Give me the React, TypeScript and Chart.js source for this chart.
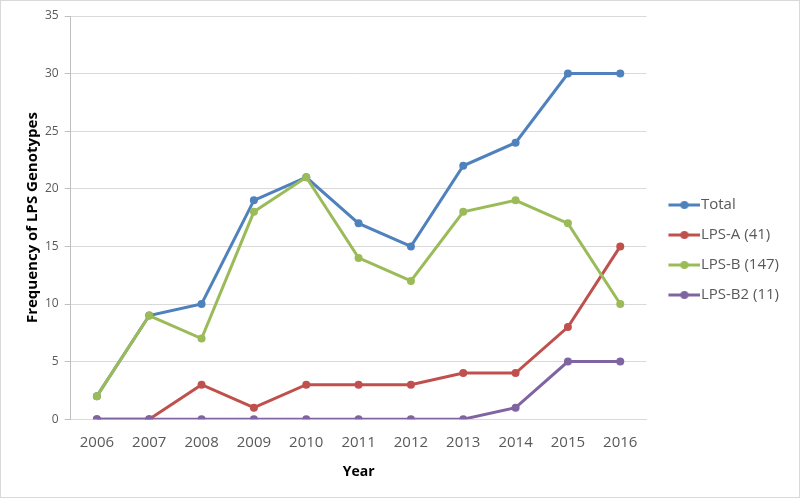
import React, { useEffect, useRef } from "react";
import { Chart, registerables } from "chart.js";

Chart.register(...registerables);

const years = ["2006", "2007", "2008", "2009", "2010", "2011", "2012", "2013", "2014", "2015", "2016"];
const total = [2, 9, 10, 19, 21, 17, 15, 22, 24, 30, 30];
const lpsA = [0, 0, 3, 1, 3, 3, 3, 4, 4, 8, 15];
const lpsB = [2, 9, 7, 18, 21, 14, 12, 18, 19, 17, 10];
const lpsB2 = [0, 0, 0, 0, 0, 0, 0, 0, 1, 5, 5];

const seriesNames = ["Total", "LPS-A (41)", "LPS-B (147)", "LPS-B2 (11)"];
const seriesColors = ["#4F81BD", "#C0504D", "#9BBB59", "#8064A2"];

const FONT = "'Open Sans', 'Noto Sans', sans-serif";
const BOX_W = 32;
const IMG_W = 46;
const LINE_START = 14;

function legendMarker(color: string): HTMLCanvasElement {
  const c = document.createElement("canvas");
  c.width = IMG_W;
  c.height = 10;
  const ctx = c.getContext("2d")!;
  ctx.strokeStyle = color;
  ctx.lineWidth = 3;
  ctx.lineCap = "butt";
  ctx.beginPath();
  ctx.moveTo(LINE_START, 5);
  ctx.lineTo(IMG_W, 5);
  ctx.stroke();
  ctx.fillStyle = color;
  ctx.beginPath();
  ctx.arc((LINE_START + IMG_W) / 2, 5, 4, 0, Math.PI * 2);
  ctx.fill();
  return c;
}

export default function App() {
  const ref = useRef<HTMLCanvasElement>(null);
  useEffect(() => {
    const values = [total, lpsA, lpsB, lpsB2];
    const markers = seriesColors.map(legendMarker);
    const chart = new Chart(ref.current!, {
      type: "line",
      data: {
        labels: years,
        datasets: values.map((d, i) => ({
          label: seriesNames[i],
          data: d,
          borderColor: seriesColors[i],
          backgroundColor: seriesColors[i],
          borderWidth: 3,
          pointRadius: 4,
          pointHoverRadius: 4,
          pointBorderWidth: 0,
          tension: 0,
          order: 4 - i,
        })),
      },
      options: {
        animation: false,
        responsive: false,
        layout: { padding: { top: 15, right: 10, bottom: 13, left: 23 } },
        plugins: {
          legend: {
            position: "right",
            labels: {
              usePointStyle: true,
              pointStyleWidth: BOX_W,
              boxHeight: 10,
              padding: 15,
              color: "#595959",
              font: { family: FONT, size: 15 },
              generateLabels: (ch) =>
                ch.data.datasets.map((ds, i) => ({
                  text: ds.label as string,
                  pointStyle: markers[i] as any,
                  fillStyle: seriesColors[i],
                  strokeStyle: seriesColors[i],
                  lineWidth: 0,
                  hidden: false,
                  datasetIndex: i,
                  fontColor: "#595959",
                })),
            },
          },
          tooltip: { enabled: false },
        },
        scales: {
          x: {
            offset: true,
            grid: { display: false },
            border: { display: true, color: "#d9d9d9", width: 1 },
            ticks: { color: "#595959", font: { family: FONT, size: 15 }, padding: 7 },
            title: {
              display: true,
              text: "Year",
              color: "#000",
              font: { family: FONT, size: 14, weight: "bold" },
              padding: { top: 4 },
            },
          },
          y: {
            min: 0,
            max: 35,
            ticks: { stepSize: 5, color: "#595959", font: { family: FONT, size: 12 }, padding: 6 },
            grid: { color: "#d9d9d9", tickLength: 6, tickColor: "#bfbfbf" },
            border: { display: true, color: "#bfbfbf", width: 1 },
            title: {
              display: true,
              text: "Frequency of LPS Genotypes",
              color: "#000",
              font: { family: FONT, size: 15, weight: "bold" },
              padding: { top: 0, bottom: -3 },
            },
          },
        },
      },
    });
    return () => chart.destroy();
  }, []);
  return (
    <div
      style={{
        position: "fixed",
        left: 0,
        top: 0,
        width: 800,
        height: 498,
        boxSizing: "border-box",
        border: "1px solid #d9d9d9",
        background: "#fff",
      }}
    >
      <canvas ref={ref} width={798} height={496} style={{ display: "block" }} />
    </div>
  );
}
